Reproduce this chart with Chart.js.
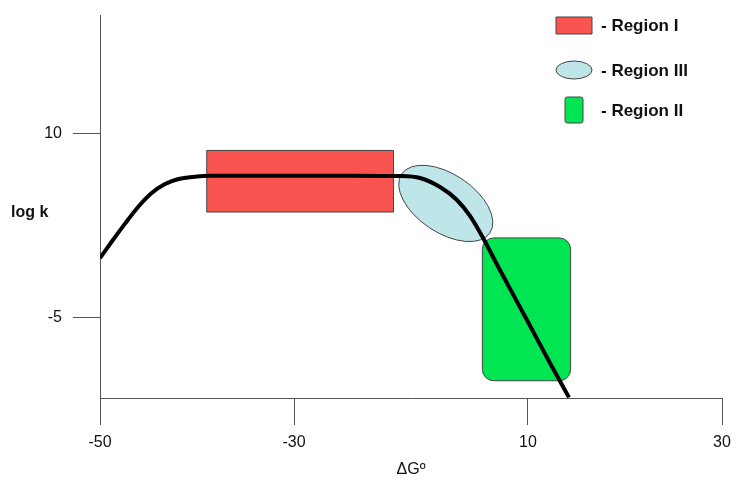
<!DOCTYPE html>
<html>
<head>
<meta charset="utf-8">
<title>log k vs ΔGº</title>
<script src="https://cdn.jsdelivr.net/npm/chart.js@4.4.0/dist/chart.umd.min.js"></script>
<style>
  html, body { margin: 0; padding: 0; background: #fff; }
</style>
</head>
<body>
<canvas id="chart" width="736" height="483"></canvas>
<script>
// ---- data ----
const xTicks = [-50, -30, 10, 30];
const yTicks = [10, -5];

// schematic log k curve
const curveX = [-50, -48.8, -47.4, -46.05, -44.7, -43.3, -41.9, -40.2, -38.7, -30, -20, -11.9, -8.46, -5.04, -2.14, 0.09, 2.14, 5.21, 9.83, 12.27, 14.23];
const curveY = [-0.13, 1.19, 2.68, 4.03, 5.12, 5.87, 6.28, 6.47, 6.55, 6.55, 6.55, 6.52, 6.36, 5.63, 4.58, 3.28, 1.65, -1.11, -5.17, -8.66, -11.45];

// regions (x range in ΔGº, y range in log k)
const regionNames = ["Region I", "Region III", "Region II"];
const regionX = [[-39, -13], [-12.1, 4.0], [2.2, 14.4]];
const regionY = [[3.6, 8.6], [1.2, 7.4], [-10.1, 1.5]];

// ---- styles ----
const regionColors = ["#fa5450", "#bee5e8", "#00e552"];
const regionShapes = ["rect", "ellipse", "round"];
const ELLIPSE_TILT = 33.6 * Math.PI / 180;
const AXIS_COLOR = "#555";
const FONT = "'Liberation Sans', Arial, sans-serif";

// the drawn x axis is not to scale: its ticks sit at fixed fractions of the axis
const X_TICK_FRAC = [0, 0.312, 0.688, 1];

class StretchScale extends Chart.LinearScale {
  getPixelForValue(value) {
    const v = xTicks, f = X_TICK_FRAC;
    let i = 0;
    while (i < v.length - 2 && value > v[i + 1]) i++;
    const frac = f[i] + (value - v[i]) / (v[i + 1] - v[i]) * (f[i + 1] - f[i]);
    return this.getPixelForDecimal(frac);
  }
  getValueForPixel(pixel) {
    const d = this.getDecimalForPixel(pixel);
    const v = xTicks, f = X_TICK_FRAC;
    let i = 0;
    while (i < f.length - 2 && d > f[i + 1]) i++;
    return v[i] + (d - f[i]) / (f[i + 1] - f[i]) * (v[i + 1] - v[i]);
  }
}
StretchScale.id = "stretch";
StretchScale.defaults = Chart.LinearScale.defaults;
Chart.register(StretchScale);

function shapePath(ctx, shape, left, top, w, h, tilt) {
  ctx.beginPath();
  if (shape === "rect") {
    ctx.rect(left, top, w, h);
  } else if (shape === "round") {
    ctx.roundRect(left, top, w, h, Math.min(w, h) * 0.13);
  } else {
    // ellipse fitted into the box, rotated by tilt
    const W = w / 2, H = h / 2;
    const c = Math.cos(tilt) ** 2, s = Math.sin(tilt) ** 2;
    const a = Math.sqrt((W * W * c - H * H * s) / (c - s));
    const b = Math.sqrt((H * H * c - W * W * s) / (c - s));
    ctx.ellipse(left + W, top + H, a, b, tilt, 0, Math.PI * 2);
  }
}

function drawShape(ctx, i, left, top, w, h, tilt) {
  ctx.save();
  shapePath(ctx, regionShapes[i], left, top, w, h, tilt);
  ctx.fillStyle = regionColors[i];
  ctx.fill();
  ctx.lineWidth = 1;
  ctx.strokeStyle = "#444";
  ctx.stroke();
  ctx.restore();
}

const regionsPlugin = {
  id: "regions",
  beforeDatasetsDraw(chart) {
    const { ctx, scales: { x, y } } = chart;
    regionNames.forEach((name, i) => {
      const x0 = x.getPixelForValue(regionX[i][0]);
      const x1 = x.getPixelForValue(regionX[i][1]);
      const y0 = y.getPixelForValue(regionY[i][1]);
      const y1 = y.getPixelForValue(regionY[i][0]);
      drawShape(ctx, i, x0, y0, x1 - x0, y1 - y0, regionShapes[i] === "ellipse" ? ELLIPSE_TILT : 0);
    });
  },
  afterDraw(chart) {
    const ctx = chart.ctx;
    // legend, top right
    const boxes = [[556, 17, 36, 17], [556, 61, 36, 18], [565, 97, 18, 26]];
    regionNames.forEach((name, i) => {
      const [l, t, w, h] = boxes[i];
      drawShape(ctx, i, l, t, w, h, 0);
      ctx.save();
      ctx.fillStyle = "#111";
      ctx.font = "bold 17px " + FONT;
      ctx.textBaseline = "middle";
      ctx.fillText("- " + name, 601, t + h / 2 + 1);
      ctx.restore();
    });
    // horizontal y axis title
    ctx.save();
    ctx.fillStyle = "#111";
    ctx.font = "bold 16px " + FONT;
    ctx.textBaseline = "middle";
    ctx.fillText("log k", 11, 213);
    ctx.restore();
  }
};

new Chart(document.getElementById("chart"), {
  type: "line",
  data: {
    datasets: [{
      data: curveX.map((x, i) => ({ x, y: curveY[i] })),
      borderColor: "#000",
      borderWidth: 4,
      pointRadius: 0,
      cubicInterpolationMode: "monotone",
      fill: false,
    }],
  },
  options: {
    responsive: false,
    animation: false,
    layout: { padding: { top: 15, right: 14, left: 0, bottom: 0 } },
    plugins: { legend: { display: false }, tooltip: { enabled: false } },
    scales: {
      x: {
        type: "stretch",
        min: -50,
        max: 30,
        afterBuildTicks: (s) => { s.ticks = xTicks.map((v) => ({ value: v })); },
        afterFit: (s) => { s.height = 85; s.paddingLeft = 0; s.paddingRight = 0; },
        grid: { drawOnChartArea: false, tickLength: 27, color: AXIS_COLOR },
        border: { color: AXIS_COLOR },
        ticks: { color: "#111", padding: 8, font: { family: FONT, size: 16 }, maxRotation: 0 },
        title: { display: true, text: "ΔGº", color: "#111", font: { family: FONT, size: 16 }, padding: { top: 0, bottom: 4 } },
      },
      y: {
        min: -11.5,
        max: 19.6,
        afterBuildTicks: (s) => { s.ticks = yTicks.map((v) => ({ value: v })); },
        afterFit: (s) => { s.width = 100; s.paddingTop = 0; s.paddingBottom = 0; },
        grid: { drawOnChartArea: false, tickLength: 27, color: AXIS_COLOR },
        border: { color: AXIS_COLOR },
        ticks: { color: "#111", padding: 11, font: { family: FONT, size: 16 } },
      },
    },
  },
  plugins: [regionsPlugin],
});
</script>
</body>
</html>
